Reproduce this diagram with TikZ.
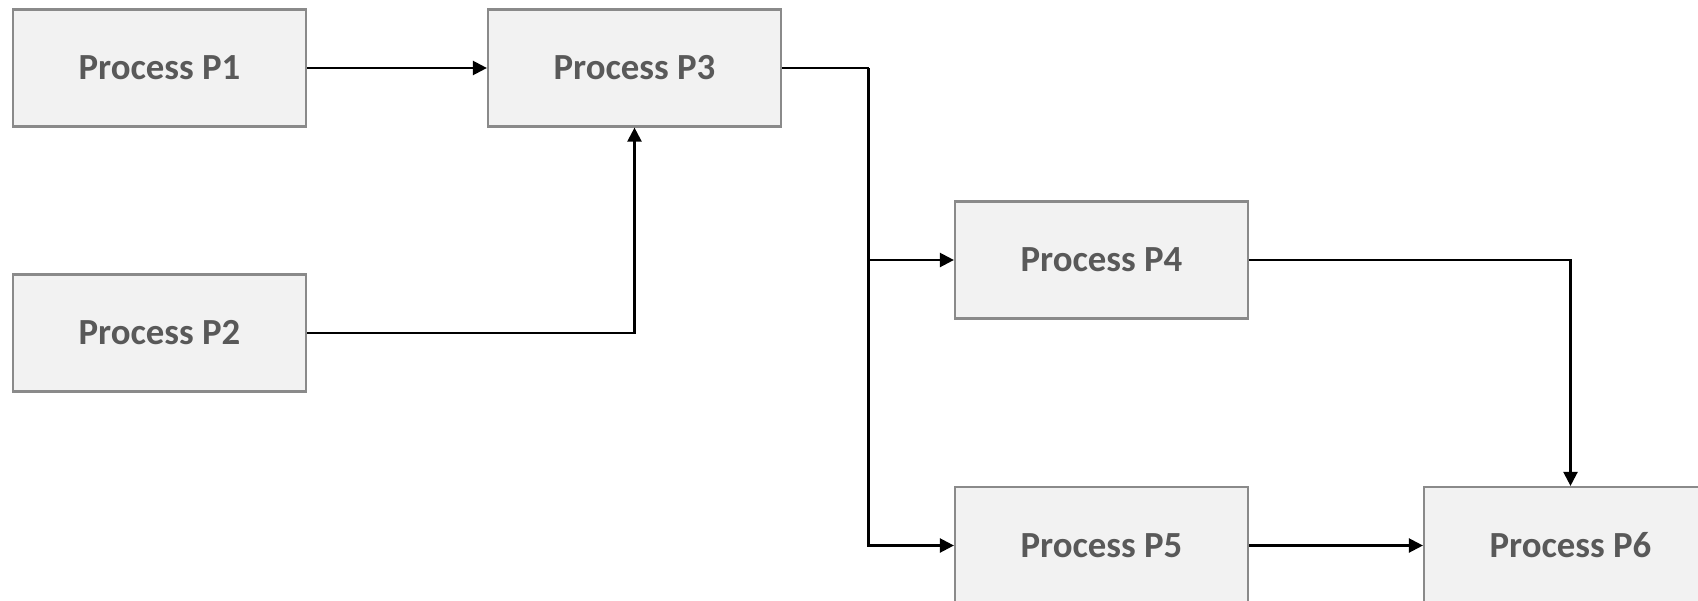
\documentclass[tikz,border=0pt]{standalone}
\usepackage{fontspec}
\setmainfont{Carlito}
\usetikzlibrary{arrows.meta}
\definecolor{boxfill}{HTML}{F2F2F2}
\definecolor{boxline}{HTML}{8A8A8A}
\definecolor{boxtext}{HTML}{595959}
\begin{document}
\begin{tikzpicture}[x=0.5pt,y=-0.5pt,
	proc/.style={draw=boxline,fill=boxfill,line width=1.1pt,minimum width=146.5pt,minimum height=58.5pt,inner sep=0pt,
		text=boxtext,font=\fontsize{18.4}{22}\selectfont\bfseries},
	link/.style={line width=1.15pt,-{Triangle[length=7pt,width=7pt]}}]
		\useasboundingbox (0,0) rectangle (1698,600);
		\node[proc] (p1) at (159.5,68) {\raisebox{-1pt}{Process P1}};
		\node[proc] (p3) at (634.5,68) {\raisebox{-1pt}{Process P3}};
		\node[proc] (p2) at (159.5,333) {\raisebox{-1pt}{Process P2}};
		\node[proc] (p4) at (1101.5,260) {\raisebox{-1pt}{Process P4}};
		\node[proc] (p5) at (1101.5,545.5) {\raisebox{-1pt}{Process P5}};
		\node[proc] (p6) at (1570.5,545.5) {\raisebox{-1pt}{Process P6}};
		\coordinate (fork) at (868.5,68);
		\draw[link] (p1) -- (p3);
		\draw[link] (p2.east) -| (p3.south);
		\draw[line width=1.15pt] (p3.east) -- (fork);
		\draw[link] (fork) |- (p4.west);
		\draw[link] (fork) |- (p5.west);
		\draw[link] (p4.east) -| (p6.north);
		\draw[link] (p5) -- (p6);
\end{tikzpicture}
\end{document}
